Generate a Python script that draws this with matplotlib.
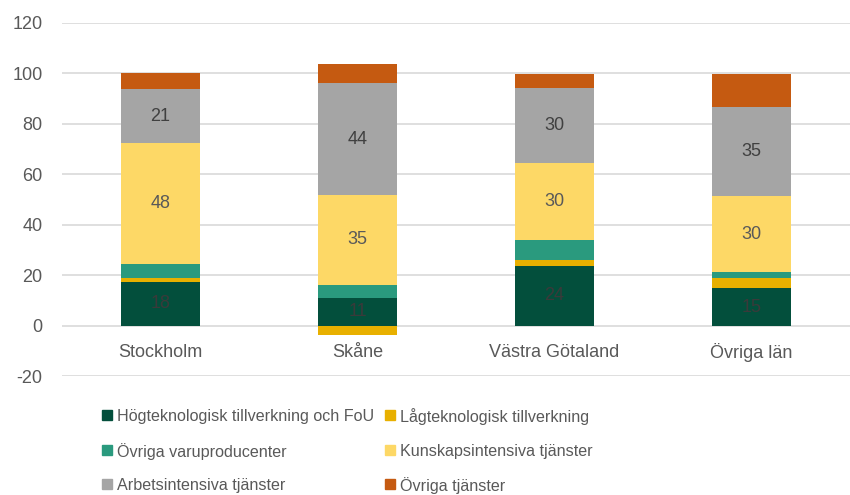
import numpy as np
import matplotlib.pyplot as plt
from matplotlib.patches import Rectangle

plt.rcParams['font.family'] = ['Liberation Sans', 'DejaVu Sans']
plt.rcParams['axes.unicode_minus'] = False

regions = ['Stockholm', 'Skåne', 'Västra Götaland', 'Övriga län']
series_names = ['Högteknologisk tillverkning och FoU', 'Lågteknologisk tillverkning',
                'Övriga varuproducenter', 'Kunskapsintensiva tjänster',
                'Arbetsintensiva tjänster', 'Övriga tjänster']

hogtek = [17.5, 11.0, 23.8, 14.8]
lagtek = [1.5, -3.8, 2.4, 4.1]
ovr_varu = [5.5, 5.3, 7.9, 2.2]
kunskap = [47.9, 35.4, 30.2, 30.2]
arbete = [21.3, 44.3, 29.9, 35.2]
ovr_tjanst = [6.3, 7.7, 5.7, 13.4]

colors = ['#034f3c', '#e8b000', '#2a9a7e', '#fdd866', '#a5a5a5', '#c55a11']
text_col = '#595959'

fig = plt.figure(figsize=(8.5, 4.95), dpi=100)
ax = fig.add_axes([0.073, 0.240, 0.927, 0.714])

x = np.arange(len(regions))
w = 0.4
series = [hogtek, lagtek, ovr_varu, kunskap, arbete, ovr_tjanst]
pos_bottom = np.zeros(len(regions))
neg_bottom = np.zeros(len(regions))
bars = []
for vals, c in zip(series, colors):
    vals = np.array(vals)
    bottom = np.where(vals >= 0, pos_bottom, neg_bottom)
    b = ax.bar(x, vals, w, bottom=bottom, color=c, zorder=3)
    bars.append(b)
    pos_bottom = pos_bottom + np.where(vals >= 0, vals, 0)
    neg_bottom = neg_bottom + np.where(vals < 0, vals, 0)

# labels for three of the series
for idx, lc in [(0, '#3a3a3a'), (3, text_col), (4, '#404040')]:
    for rect, v in zip(bars[idx], series[idx]):
        ax.text(rect.get_x() + rect.get_width() / 2, rect.get_y() + rect.get_height() / 2,
                '{:.0f}'.format(v), ha='center', va='center', fontsize=13, color=lc, zorder=4)

ax.set_xlim(-0.5, len(regions) - 0.5)
ax.set_ylim(-20, 120)
ax.set_yticks(range(-20, 121, 20))
ax.yaxis.grid(True, color='#d9d9d9', linewidth=1.2, zorder=0)
ax.set_axisbelow(True)
for s in ax.spines.values():
    s.set_visible(False)
ax.tick_params(axis='both', length=0, labelsize=13, colors=text_col)
ax.tick_params(axis='y', pad=14)
ax.set_xticks(x)
ax.set_xticklabels([])
# category labels sit just below the zero line
for xi, r in zip(x, regions):
    ax.text(xi, -10.8, r, ha='center', va='center', fontsize=13, color=text_col)

# legend, laid out row by row like the original
leg_rows = [0.162, 0.091, 0.022]
leg_cols = [0.120, 0.453]
sq_w, sq_h = 10 / 850, 10 / 495
for i, name in enumerate(series_names):
    row, col = i // 2, i % 2
    lx, ly = leg_cols[col], leg_rows[row]
    fig.add_artist(Rectangle((lx, ly - sq_h / 2), sq_w, sq_h, color=colors[i],
                             transform=fig.transFigure))
    fig.text(lx + sq_w + 0.006, ly, name, ha='left', va='center_baseline',
             fontsize=11.6, color=text_col)

fig.savefig('out.png', dpi=100)
